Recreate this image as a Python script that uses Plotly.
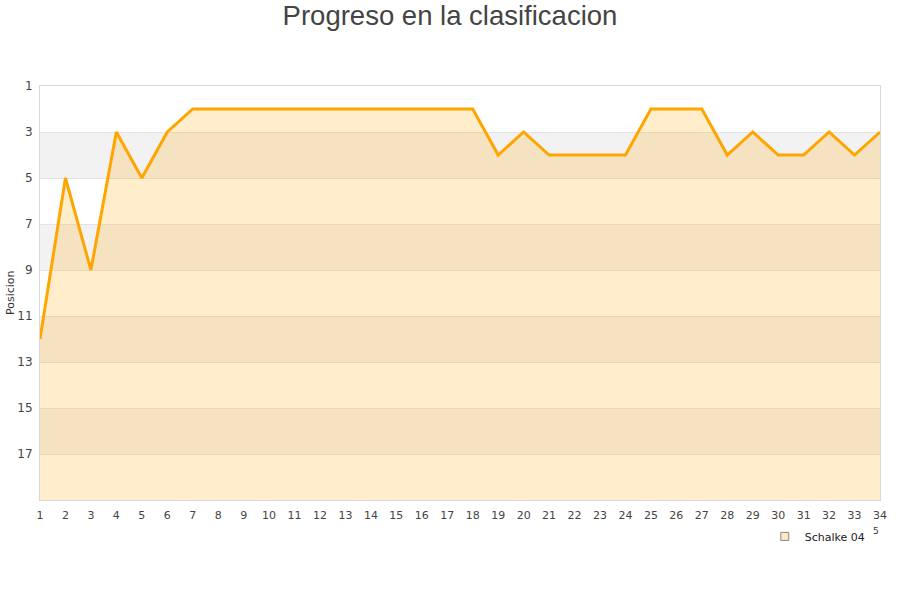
import plotly.graph_objects as go

jornadas = list(range(1, 35))
posiciones = [12, 5, 9, 3, 5, 3, 2, 2, 2, 2, 2, 2, 2, 2, 2, 2, 2, 2,
              4, 3, 4, 4, 4, 4, 2, 2, 2, 4, 3, 4, 4, 3, 4, 3]
equipo = "Schalke 04"
y_ticks = [1, 3, 5, 7, 9, 11, 13, 15, 17]
y_min, y_max = 1, 19

fig = go.Figure()

# baseline for the fill (bottom of the reversed axis)
fig.add_trace(go.Scatter(x=jornadas, y=[y_max] * len(jornadas), mode="lines",
                         line=dict(width=0), showlegend=False, hoverinfo="skip"))
fig.add_trace(go.Scatter(x=jornadas, y=posiciones, mode="lines",
                         line=dict(color="#FFA500", width=3),
                         fill="tonexty", fillcolor="rgba(255,165,0,0.2)",
                         showlegend=False, name=equipo))
# legend entry
fig.add_trace(go.Scatter(x=[None], y=[None], mode="markers", name=equipo,
                         marker=dict(symbol="square", size=8, color="#FFE9C2",
                                     line=dict(color="#888888", width=1))))

shapes = []
for k in range(3, 19, 4):
    shapes.append(dict(type="rect", xref="paper", yref="y", x0=0, x1=1, y0=k, y1=k + 2,
                       fillcolor="#F2F2F2", line=dict(width=0), layer="below"))

fig.update_layout(
    width=900, height=600,
    paper_bgcolor="white", plot_bgcolor="white",
    margin=dict(l=40, r=20, t=86, b=100, autoexpand=False),
    title=dict(text="Progreso en la clasificacion", x=0.5, xanchor="center",
               yref="container", y=0.975, yanchor="middle",
               font=dict(family="Liberation Sans, Arial", size=27.5, color="#444444")),
    shapes=shapes,
    font=dict(family="DejaVu Sans", size=11, color="#444444"),
    showlegend=True,
    legend=dict(x=0.989, xanchor="right", y=-0.088, yanchor="middle",
                orientation="h", font=dict(size=11, color="#222222"),
                bgcolor="rgba(0,0,0,0)"),
)
fig.update_xaxes(range=[1, 34], tickmode="array", tickvals=jornadas,
                 ticktext=[str(j) for j in jornadas], showgrid=False,
                 showline=True, linecolor="#D9D9D9", linewidth=1, mirror=True,
                 zeroline=False, ticks="", tickfont=dict(size=11, color="#444444"),
                 ticklabelstandoff=5, automargin=False)
fig.update_yaxes(range=[y_max, y_min], tickmode="array", tickvals=y_ticks,
                 showgrid=True, gridcolor="#E3E3E3", gridwidth=1,
                 showline=True, linecolor="#D9D9D9", linewidth=1, mirror=True,
                 zeroline=False, ticks="", tickfont=dict(size=12, color="#444444"),
                 ticklabelstandoff=4, automargin=False)

fig.add_annotation(xref="paper", yref="paper", x=-30 / 840, y=0.5,
                   xanchor="center", yanchor="middle",
                   text="Posicion", textangle=-90, showarrow=False,
                   font=dict(size=11, color="#333333"))
fig.add_annotation(xref="paper", yref="paper", x=(876 - 40) / 840, y=-(531 - 500) / 414,
                   xanchor="center", yanchor="middle",
                   text="5", showarrow=False, font=dict(size=9, color="#333333"))

fig.write_html("out.html", config={"displayModeBar": False},
               post_script="document.body.style.margin='0';")
